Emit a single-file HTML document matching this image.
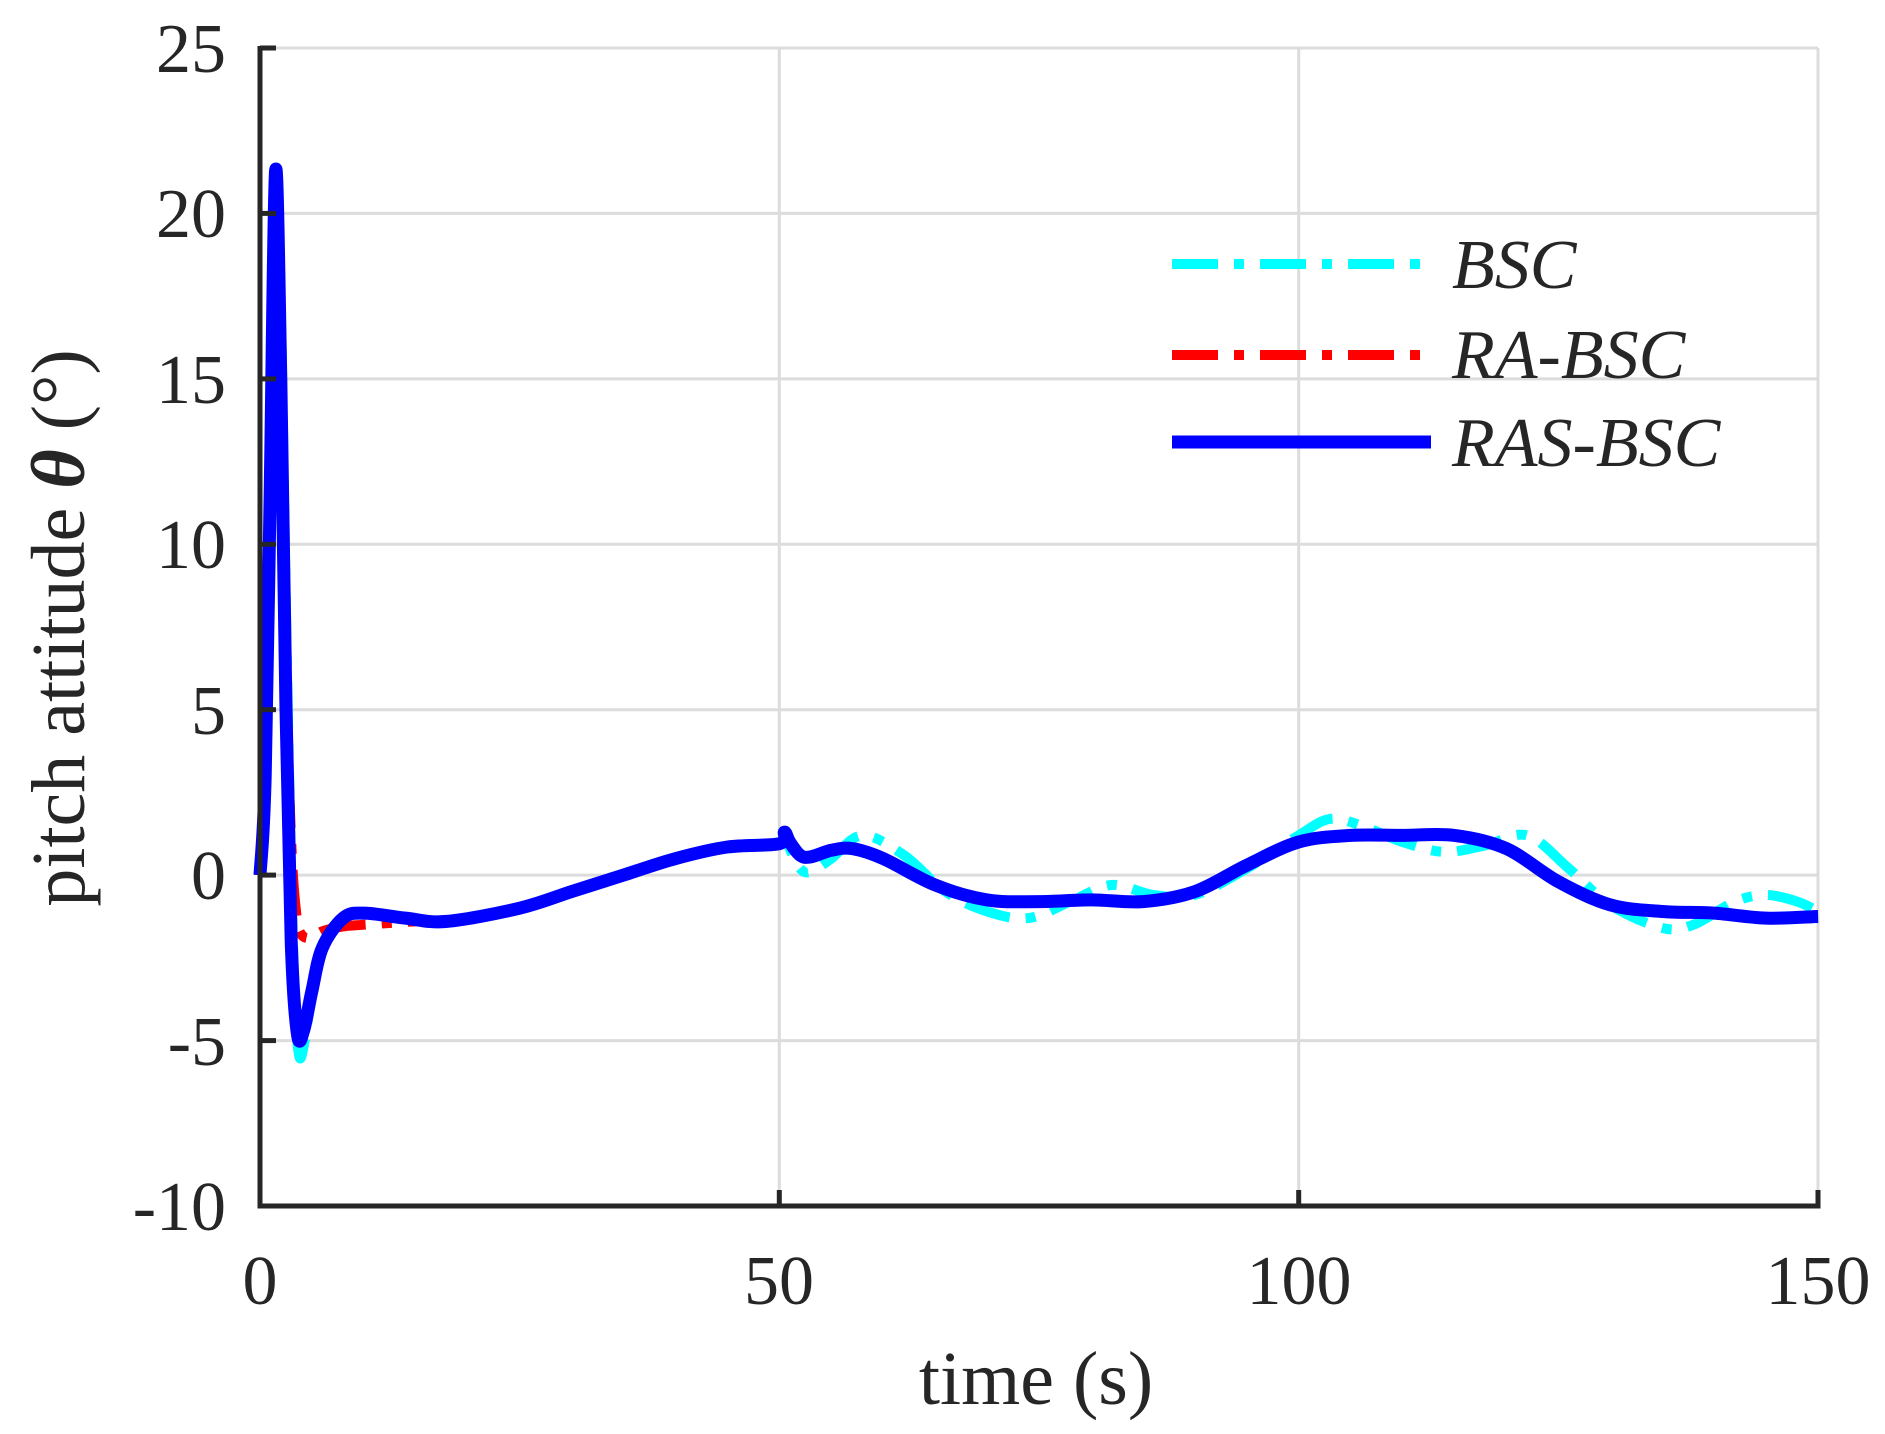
<!DOCTYPE html>
<html><head><meta charset="utf-8"><style>
html,body{margin:0;padding:0;background:#fff;}
svg{display:block;}
text{font-family:"Liberation Serif",serif;fill:#262626;}
</style></head><body>
<svg width="1885" height="1434" viewBox="0 0 1885 1434">
<rect width="1885" height="1434" fill="#fff"/>
<g stroke="#dcdcdc" stroke-width="3">
<line x1="260" y1="48" x2="1818" y2="48"/>
<line x1="260" y1="213.4" x2="1818" y2="213.4"/>
<line x1="260" y1="378.9" x2="1818" y2="378.9"/>
<line x1="260" y1="544.3" x2="1818" y2="544.3"/>
<line x1="260" y1="709.7" x2="1818" y2="709.7"/>
<line x1="260" y1="875.1" x2="1818" y2="875.1"/>
<line x1="260" y1="1040.6" x2="1818" y2="1040.6"/>
<line x1="779.3" y1="48" x2="779.3" y2="1206"/>
<line x1="1298.7" y1="48" x2="1298.7" y2="1206"/>
<line x1="1818" y1="48" x2="1818" y2="1206"/>
</g>
<g fill="none" stroke-linejoin="round">
<path id="pc" stroke="#00ffff" stroke-width="10" stroke-dasharray="46,16,10,16" data-p="0,0 0.5,3 1,12 1.5,20 2,17 2.5,8 3,0 3.4,-4 3.8,-5.5 4.3,-5 5,-3.6 6,-2.2 8,-1.3 10,-1.15 14,-1.3 18,-1.4 25,-1.0 30,-0.5 35,0 40,0.5 45,0.85 50,0.95 50.5,1.3 51,0.8 52,0.2 53,0.1 55,0.5 58,1.2 62,0.6 66,-0.5 70,-1.1 74,-1.3 78,-0.8 82,-0.3 86,-0.6 90,-0.6 95,0.2 100,1.2 103,1.7 106,1.5 110,1.0 114,0.7 118,0.9 122,1.2 126,0.2 130,-0.9 135,-1.6 138,-1.5 142,-0.8 145,-0.6 148,-0.8 150,-1.1"/>
<path id="pr" stroke="#ff0000" stroke-width="10" stroke-dasharray="46,16,10,16" data-p="0,0 0.5,3 1,12 1.5,20 2,14 2.5,6 3,1 3.5,-1.2 4,-1.8 5,-1.9 6,-1.7 8,-1.55 10,-1.5 15,-1.4 18,-1.4 25,-1.0 30,-0.5 35,0 40,0.5 45,0.85 50,0.95"/>
<path id="pb" stroke="#0000ff" stroke-width="13" data-p="0,0 0.5,3 1,12 1.5,21.3 2,15 2.5,5 3,-2 3.6,-4.8 4.2,-4.7 5,-3.5 6,-2.2 8,-1.3 10,-1.15 14,-1.3 18,-1.4 25,-1.0 30,-0.5 35,0 40,0.5 45,0.85 50,0.95 50.5,1.3 51,1.0 52,0.6 53,0.55 55,0.75 57,0.8 60,0.5 65,-0.3 70,-0.75 75,-0.8 80,-0.75 85,-0.8 90,-0.5 95,0.3 100,1.0 105,1.2 110,1.2 115,1.2 120,0.8 125,-0.2 130,-0.9 135,-1.1 140,-1.15 145,-1.3 150,-1.25"/>
</g>
<g stroke="#262626" stroke-width="5" fill="none">
<polyline points="260,46 260,1206 1818,1206 1818,1190"/>
<line x1="260" y1="48" x2="276" y2="48"/>
<line x1="260" y1="213.4" x2="276" y2="213.4"/>
<line x1="260" y1="378.9" x2="276" y2="378.9"/>
<line x1="260" y1="544.3" x2="276" y2="544.3"/>
<line x1="260" y1="709.7" x2="276" y2="709.7"/>
<line x1="260" y1="875.1" x2="276" y2="875.1"/>
<line x1="260" y1="1040.6" x2="276" y2="1040.6"/>
<line x1="779.3" y1="1206" x2="779.3" y2="1190"/>
<line x1="1298.7" y1="1206" x2="1298.7" y2="1190"/>
</g>
<g font-size="70" text-anchor="end">
<text x="226" y="72">25</text>
<text x="226" y="237">20</text>
<text x="226" y="403">15</text>
<text x="226" y="568">10</text>
<text x="226" y="734">5</text>
<text x="226" y="899">0</text>
<text x="226" y="1065">-5</text>
<text x="226" y="1230">-10</text>
</g>
<g font-size="70" text-anchor="middle">
<text x="260" y="1304">0</text>
<text x="779" y="1304">50</text>
<text x="1299" y="1304">100</text>
<text x="1818" y="1304">150</text>
</g>
<text x="1036" y="1404" font-size="76" text-anchor="middle">time (s)</text>
<text transform="translate(84,628) rotate(-90)" font-size="76" text-anchor="middle">pitch attitude <tspan font-weight="bold" font-style="italic">θ</tspan> (°)</text>
<g fill="none">
<line x1="1172" y1="264" x2="1431" y2="264" stroke="#00ffff" stroke-width="10" stroke-dasharray="46,16,10,16"/>
<line x1="1172" y1="355" x2="1431" y2="355" stroke="#ff0000" stroke-width="10" stroke-dasharray="46,16,10,16"/>
<line x1="1172" y1="442" x2="1431" y2="442" stroke="#0000ff" stroke-width="13"/>
</g>
<g font-size="70" font-style="italic">
<text x="1452" y="288" fill="#111">BSC</text>
<text x="1452" y="378" fill="#111">RA-BSC</text>
<text x="1452" y="466" fill="#111">RAS-BSC</text>
</g>
</svg>
<script>
['pc','pr','pb'].forEach(function(id){
var el=document.getElementById(id);
var pts=el.getAttribute('data-p').trim().split(/\s+/).map(function(s){var a=s.split(',');return [260+10.387*parseFloat(a[0]),875.1-33.086*parseFloat(a[1])];});
var d='M'+pts[0][0].toFixed(1)+','+pts[0][1].toFixed(1);
for(var i=0;i<pts.length-1;i++){
var p0=pts[Math.max(i-1,0)],p1=pts[i],p2=pts[i+1],p3=pts[Math.min(i+2,pts.length-1)];
var c1x=p1[0]+(p2[0]-p0[0])/6,c1y=p1[1]+(p2[1]-p0[1])/6;
var c2x=p2[0]-(p3[0]-p1[0])/6,c2y=p2[1]-(p3[1]-p1[1])/6;
d+=' C'+c1x.toFixed(1)+','+c1y.toFixed(1)+' '+c2x.toFixed(1)+','+c2y.toFixed(1)+' '+p2[0].toFixed(1)+','+p2[1].toFixed(1);
}
el.setAttribute('d',d);
});
</script>
</body></html>
